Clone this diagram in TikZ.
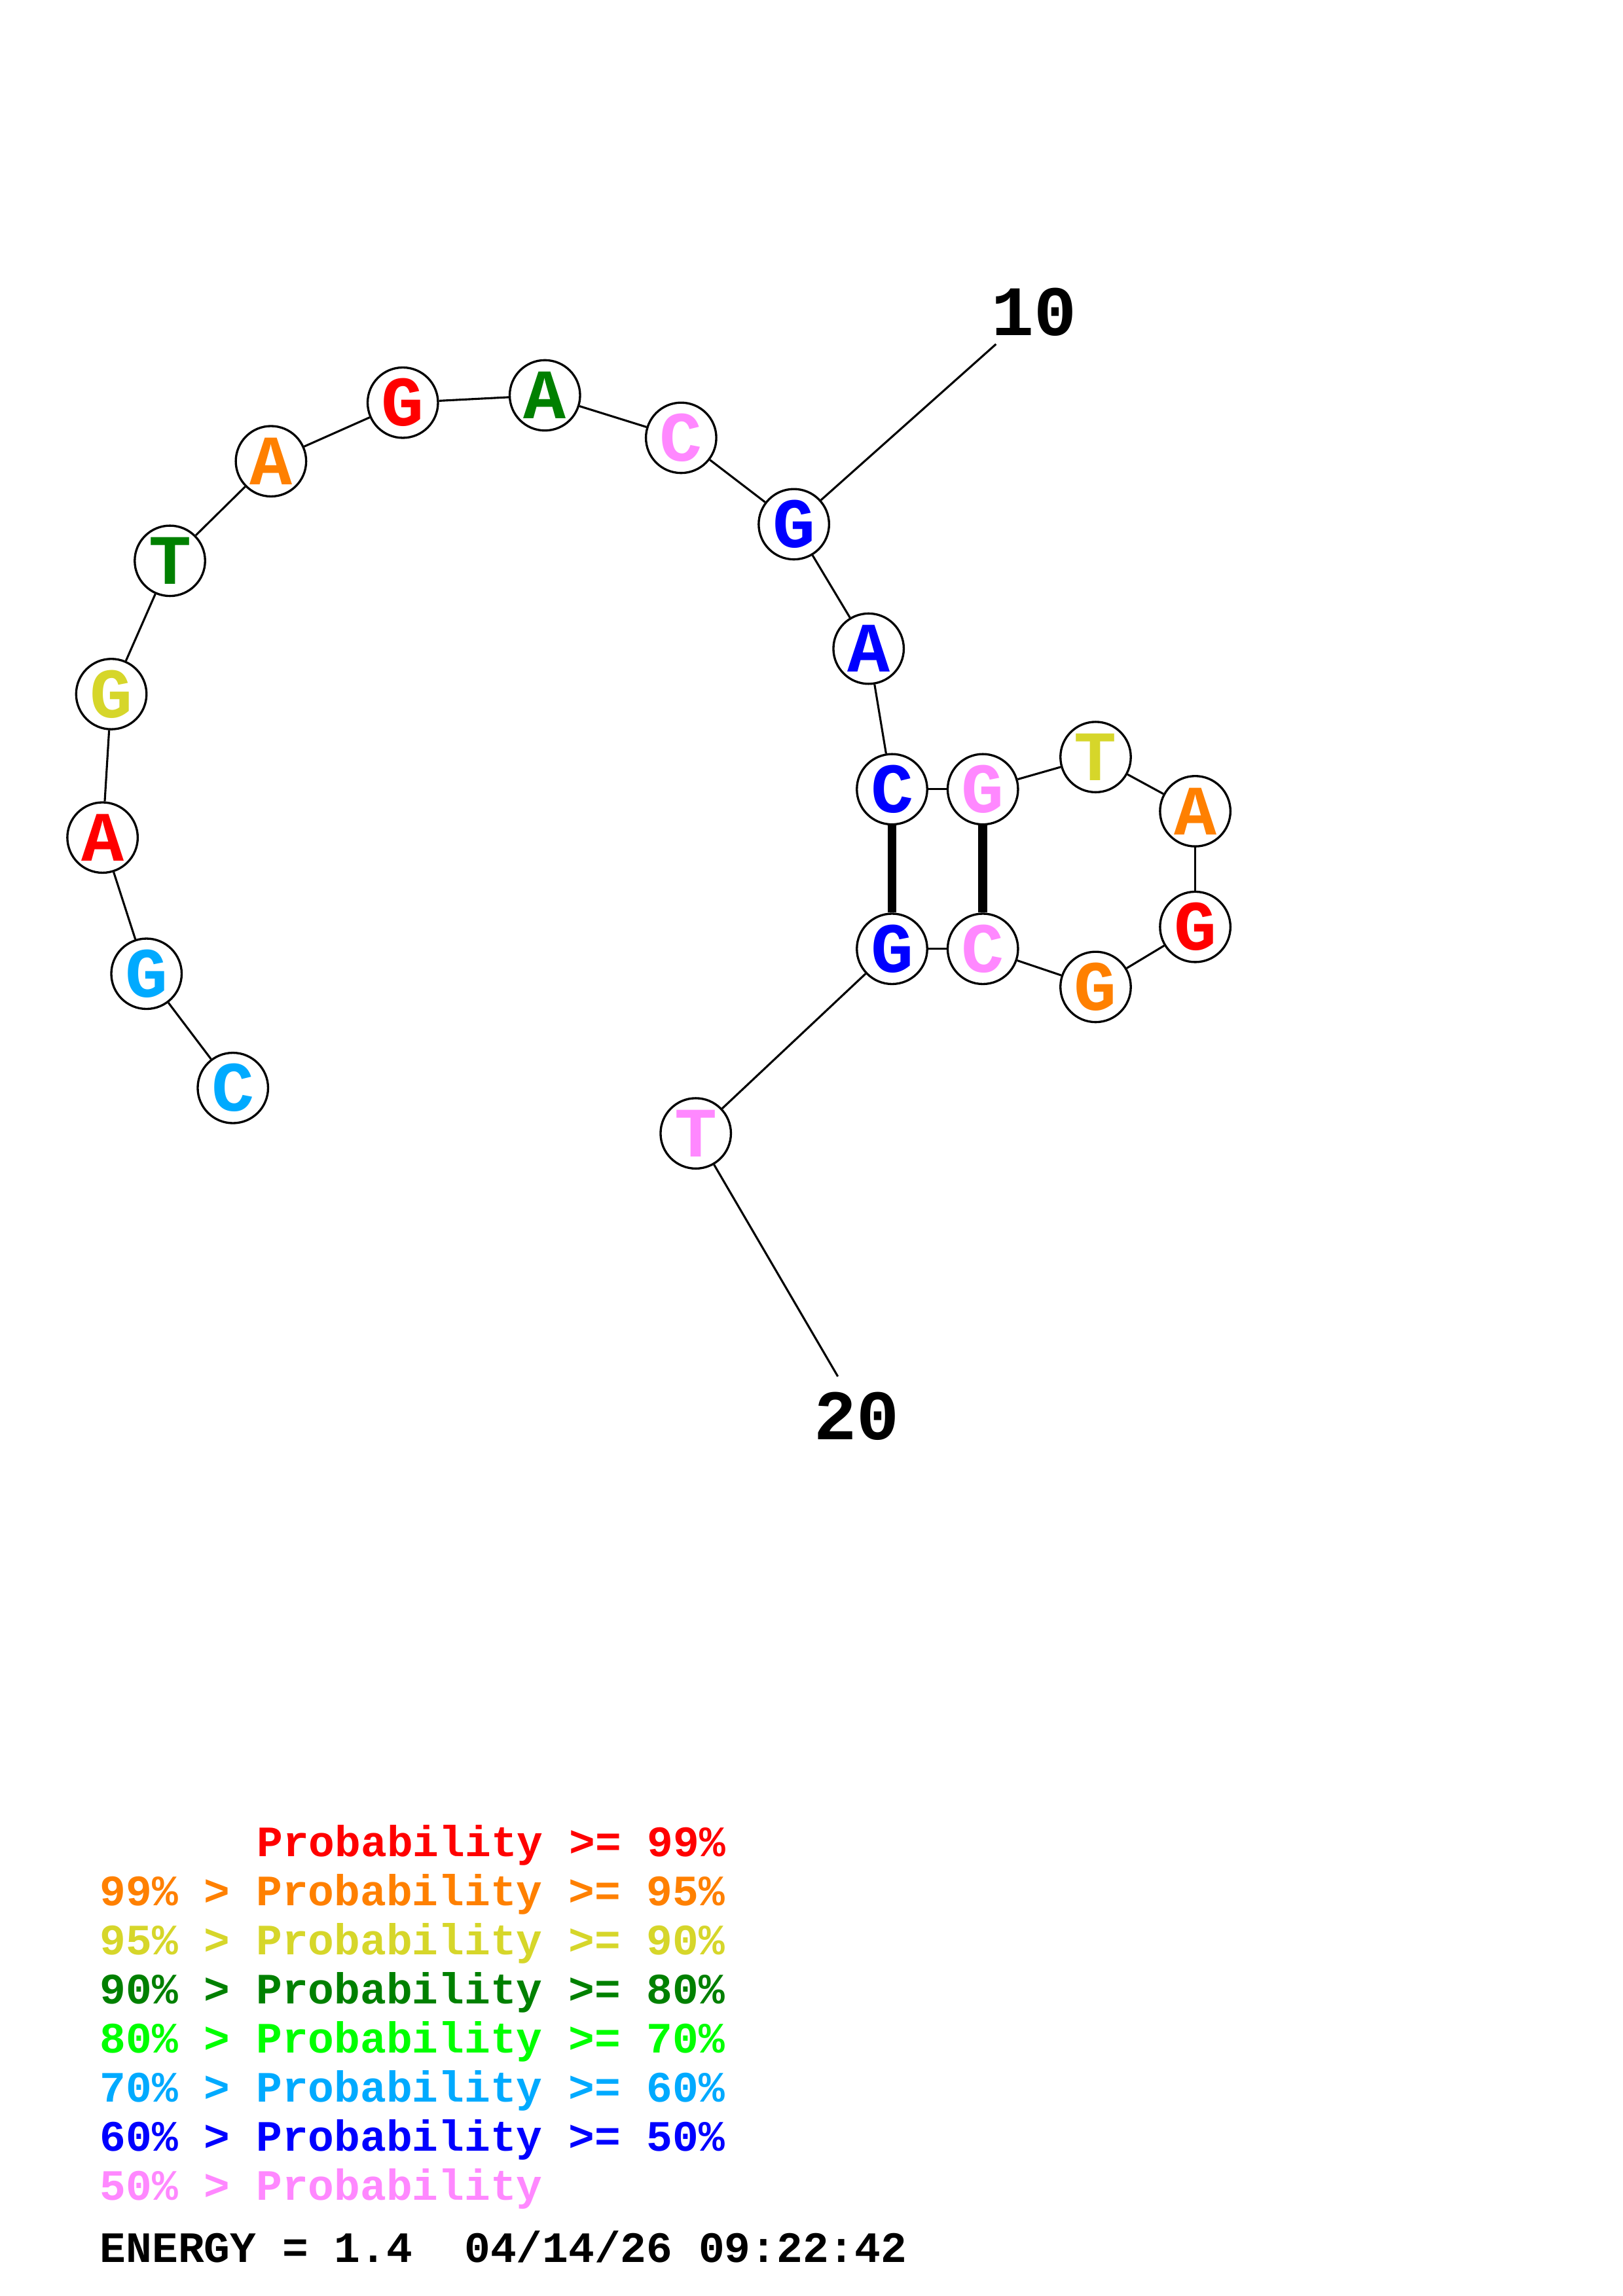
\documentclass[tikz,border=0pt]{standalone}
\usepackage{fontspec}
\setmainfont{Liberation Mono}
\definecolor{pr}{RGB}{255,0,0}
\definecolor{po}{RGB}{255,128,0}
\definecolor{py}{RGB}{214,214,42}
\definecolor{pdg}{RGB}{0,128,0}
\definecolor{pg}{RGB}{0,255,0}
\definecolor{plb}{RGB}{0,170,255}
\definecolor{pb}{RGB}{0,0,255}
\definecolor{pp}{RGB}{255,136,255}
\begin{document}
\begin{tikzpicture}[x=0.537pt,y=-0.537pt,
  nt/.style={circle,draw=black,line width=0.8pt,fill=white,minimum size=25.8pt,inner sep=0pt,font=\bfseries\fontsize{26}{26}\selectfont},
  bb/.style={line width=0.75pt},
  bp/.style={line width=3.3pt},
  lbl/.style={font=\bfseries\fontsize{26}{26}\selectfont,inner sep=0pt},
  leg/.style={anchor=base west,inner sep=0pt,font=\bfseries\fontsize{15.9}{16}\selectfont}]
\useasboundingbox (0,0) rectangle (1108,1568);
\fill[white] (0,0) rectangle (1108,1568);
\node[nt,text=plb] (n1) at (159,743) {C};
\node[nt,text=plb] (n2) at (100,665) {G};
\node[nt,text=pr] (n3) at (70,572) {A};
\node[nt,text=py] (n4) at (76,474) {G};
\node[nt,text=pdg] (n5) at (116,383) {T};
\node[nt,text=po] (n6) at (185,315) {A};
\node[nt,text=pr] (n7) at (275,275) {G};
\node[nt,text=pdg] (n8) at (372,270) {A};
\node[nt,text=pp] (n9) at (465,299) {C};
\node[nt,text=pb] (n10) at (542,358) {G};
\node[nt,text=pb] (n11) at (593,443) {A};
\node[nt,text=pb] (n12) at (609,539) {C};
\node[nt,text=pp] (n13) at (671,539) {G};
\node[nt,text=py] (n14) at (748,517) {T};
\node[nt,text=po] (n15) at (816,554) {A};
\node[nt,text=pr] (n16) at (816,633) {G};
\node[nt,text=po] (n17) at (748,674) {G};
\node[nt,text=pp] (n18) at (671,648) {C};
\node[nt,text=pb] (n19) at (609,648) {G};
\node[nt,text=pp] (n20) at (475,774) {T};
\coordinate (e10) at (680,235);
\coordinate (e20) at (572,940);
\node[lbl] (l10) at (706,213) {10};
\node[lbl] (l20) at (585,967) {20};
\foreach \a/\b in {1/2,2/3,3/4,4/5,5/6,6/7,7/8,8/9,9/10,10/11,11/12,12/13,13/14,14/15,15/16,16/17,17/18,18/19,19/20}
  \draw[bb] (n\a) -- (n\b);
\draw[bb] (n10) -- (e10);
\draw[bb] (n20) -- (e20);
\draw[bp] (n12) -- (n19);
\draw[bp] (n13) -- (n18);
\node[leg,text=pr] (t1) at (175,1268) {Probability >= 99\%};
\node[leg,text=po] (t2) at (68,1301.5) {99\% > Probability >= 95\%};
\node[leg,text=py] (t3) at (68,1335) {95\% > Probability >= 90\%};
\node[leg,text=pdg] (t4) at (68,1368.5) {90\% > Probability >= 80\%};
\node[leg,text=pg] (t5) at (68,1402) {80\% > Probability >= 70\%};
\node[leg,text=plb] (t6) at (68,1435.5) {70\% > Probability >= 60\%};
\node[leg,text=pb] (t7) at (68,1469) {60\% > Probability >= 50\%};
\node[leg,text=pp] (t8) at (68,1502.5) {50\% > Probability};
\node[leg,text=black] (t9) at (68,1545) {ENERGY = 1.4\ \ 04/14/26 09:22:42};
\end{tikzpicture}
\end{document}
